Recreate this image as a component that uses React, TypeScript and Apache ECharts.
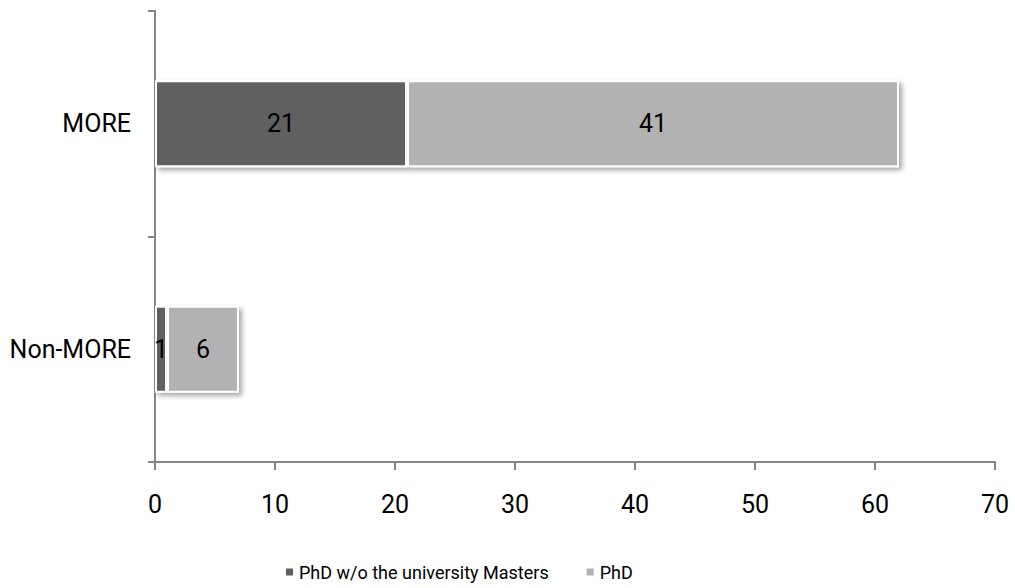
import React, { useEffect, useRef } from "react";
import * as echarts from "echarts";

const categories = ["Non-MORE", "MORE"];
const xTicks = [0, 10, 20, 30, 40, 50, 60, 70];
const seriesNames = ["PhD w/o the university Masters", "PhD"];
const phdWithoutMasters = [1, 21];
const phd = [6, 41];
const seriesColors = ["#606060", "#b2b2b2"];

const FONT = "Roboto, 'Noto Sans', sans-serif";

export default function App() {
  const ref = useRef<HTMLDivElement>(null);

  useEffect(() => {
    if (!ref.current) return;
    const chart = echarts.init(ref.current, null, { renderer: "svg" });
    const values = [phdWithoutMasters, phd];
    const barStyle = (color: string) => ({
      color,
      borderColor: "#ffffff",
      borderWidth: 2,
      shadowColor: "rgba(0,0,0,0.35)",
      shadowBlur: 5,
      shadowOffsetX: 3,
      shadowOffsetY: 3,
    });
    chart.setOption({
      animation: false,
      backgroundColor: "#ffffff",
      textStyle: { fontFamily: FONT },
      grid: { left: 155, right: 20, top: 11, bottom: 126, containLabel: false },
      legend: {
        bottom: 2,
        left: 279,
        itemWidth: 9,
        itemHeight: 9,
        itemGap: 36,
        itemTextGap: 6,
        icon: "rect",
        textStyle: { fontFamily: FONT, fontSize: 18, color: "#000" },
        data: seriesNames,
      },
      xAxis: {
        type: "value",
        min: xTicks[0],
        max: xTicks[xTicks.length - 1],
        interval: 10,
        splitLine: { show: false },
        axisLine: { show: true, lineStyle: { color: "#868686", width: 2 } },
        axisTick: { show: true, length: 8, lineStyle: { color: "#868686", width: 2 } },
        axisLabel: { fontFamily: FONT, fontSize: 25, color: "#000", margin: 30 },
      },
      yAxis: {
        type: "category",
        data: categories,
        axisLine: { show: true, lineStyle: { color: "#868686", width: 2 } },
        axisTick: { show: true, length: 7, lineStyle: { color: "#868686", width: 2 } },
        axisLabel: { fontFamily: FONT, fontSize: 25, color: "#000", margin: 24 },
      },
      series: seriesNames.map((name, i) => ({
        name,
        type: "bar",
        stack: "total",
        barWidth: 87,
        data: values[i],
        itemStyle: barStyle(seriesColors[i]),
        label: {
          show: true,
          position: "inside",
          fontFamily: FONT,
          fontSize: 25,
          color: "#000",
        },
      })),
    });
    return () => chart.dispose();
  }, []);

  return (
    <div
      ref={ref}
      style={{ position: "fixed", left: 0, top: 0, width: 1015, height: 588 }}
    />
  );
}
